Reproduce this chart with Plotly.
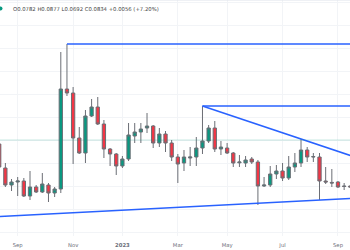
import plotly.graph_objects as go
import pandas as pd

# Weekly bars (week start dates)
dates = pd.date_range("2022-08-15", periods=58, freq="7D")

open_ = [0.0880, 0.0760, 0.0675, 0.0690, 0.0695, 0.0620, 0.0665, 0.0640, 0.0675, 0.0635,
         0.0655, 0.1155, 0.1135, 0.0910, 0.0835, 0.1020, 0.1065, 0.0980, 0.0855, 0.0830,
         0.0770, 0.0805, 0.0920, 0.0940, 0.0960, 0.0970, 0.0885, 0.0930, 0.0885, 0.0815,
         0.0785, 0.0810, 0.0815, 0.0860, 0.0895, 0.0960, 0.0855, 0.0860, 0.0835, 0.0786,
         0.0785, 0.0805, 0.0790, 0.0670, 0.0675, 0.0730, 0.0745, 0.0710, 0.0765, 0.0785,
         0.0850, 0.0815, 0.0815, 0.0695, 0.0688, 0.0690, 0.0670, 0.0670]
high = [0.0900, 0.0785, 0.0705, 0.0715, 0.0710, 0.0745, 0.0675, 0.0735, 0.0685, 0.0665,
        0.1340, 0.1380, 0.1165, 0.0965, 0.1050, 0.1105, 0.1115, 0.1000, 0.0860, 0.0835,
        0.0820, 0.0985, 0.0985, 0.0985, 0.1035, 0.0975, 0.0960, 0.0945, 0.0900, 0.0830,
        0.0850, 0.0865, 0.0915, 0.1070, 0.0975, 0.0995, 0.0895, 0.0885, 0.0840, 0.0825,
        0.0820, 0.0815, 0.0800, 0.0715, 0.0770, 0.0775, 0.0785, 0.0820, 0.0835, 0.0905,
        0.0865, 0.0835, 0.0835, 0.0765, 0.0755, 0.0695, 0.0685, 0.0675]
low = [0.0760, 0.0665, 0.0645, 0.0620, 0.0615, 0.0600, 0.0635, 0.0635, 0.0590, 0.0615,
       0.0635, 0.1120, 0.0780, 0.0830, 0.0785, 0.1015, 0.0975, 0.0810, 0.0770, 0.0725,
       0.0760, 0.0795, 0.0885, 0.0885, 0.0935, 0.0860, 0.0865, 0.0840, 0.0795, 0.0685,
       0.0745, 0.0770, 0.0770, 0.0830, 0.0885, 0.0840, 0.0825, 0.0830, 0.0765, 0.0765,
       0.0765, 0.0780, 0.0575, 0.0665, 0.0665, 0.0705, 0.0695, 0.0700, 0.0740, 0.0765,
       0.0790, 0.0790, 0.0600, 0.0680, 0.0665, 0.0660, 0.0650, 0.0660]
close = [0.0765, 0.0675, 0.0690, 0.0695, 0.0620, 0.0665, 0.0640, 0.0680, 0.0635, 0.0655,
         0.1155, 0.1135, 0.0910, 0.0835, 0.1020, 0.1065, 0.0980, 0.0855, 0.0830, 0.0770,
         0.0805, 0.0925, 0.0940, 0.0955, 0.0970, 0.0885, 0.0930, 0.0885, 0.0815, 0.0780,
         0.0815, 0.0815, 0.0860, 0.0895, 0.0960, 0.0855, 0.0865, 0.0835, 0.0785, 0.0790,
         0.0800, 0.0790, 0.0670, 0.0675, 0.0730, 0.0745, 0.0710, 0.0765, 0.0785, 0.0850,
         0.0815, 0.0817, 0.0695, 0.0690, 0.0685, 0.0665, 0.0668, 0.0665]

tick_dates = ["2022-09-05", "2022-11-07", "2023-01-02", "2023-03-06",
              "2023-05-01", "2023-07-03", "2023-09-04"]
tick_text = ["Sep", "Nov", "<b>2023</b>", "Mar", "May", "Jul", "Sep"]

header = "O0.0782 H0.0877 L0.0692 C0.0834 +0.0056 (+7.20%)"

# Drawing anchors (bar index, price)
support_anchor = (0, 0.05175)
level_line = 0.0900

GREEN = "#089981"
RED = "#F23645"
BLUE = "#2962FF"

base = dates[0]
def at(idx):
    return base + pd.Timedelta(days=7 * idx)

x_end = 60
fig = go.Figure()

fig.add_trace(go.Candlestick(
    x=dates, open=open_, high=high, low=low, close=close,
    increasing=dict(fillcolor=GREEN, line=dict(color="#6b6e75", width=1)),
    decreasing=dict(fillcolor=RED, line=dict(color="#6b6e75", width=1)),
    whiskerwidth=0, showlegend=False, hoverinfo="skip"))

line_style = dict(color=BLUE, width=1.5)
# horizontal resistance from bar 11 high
fig.add_trace(go.Scatter(x=[dates[11], at(x_end)], y=[high[11], high[11]], mode="lines",
                         line=line_style, showlegend=False, hoverinfo="skip"))
# horizontal resistance from bar 33 high
fig.add_trace(go.Scatter(x=[dates[33], at(x_end)], y=[high[33], high[33]], mode="lines",
                         line=line_style, showlegend=False, hoverinfo="skip"))
# descending line through bar 33 high and bar 49 high
slope_d = (high[49] - high[33]) / (49 - 33)
fig.add_trace(go.Scatter(x=[dates[33], at(x_end)],
                         y=[high[33], high[33] + slope_d * (x_end - 33)], mode="lines",
                         line=line_style, showlegend=False, hoverinfo="skip"))
# ascending support through anchor and bar 52 low
i0, p0 = support_anchor
slope_s = (low[52] - p0) / (52 - i0)
fig.add_trace(go.Scatter(x=[at(i0 - 2), at(x_end)],
                         y=[p0 - 2 * slope_s, p0 + slope_s * (x_end - i0)], mode="lines",
                         line=line_style, showlegend=False, hoverinfo="skip"))

fig.add_hline(y=level_line, line=dict(color="rgba(8,153,129,0.22)", width=1))

fig.add_shape(type="circle", xref="paper", yref="paper", xsizemode="pixel", ysizemode="pixel",
              xanchor=0, yanchor=1, x0=-1.5, x1=2.5, y0=-10.5, y1=-6.5,
              fillcolor=GREEN, line=dict(width=0))
fig.add_shape(type="line", xref="paper", yref="paper", x0=0, x1=1, y0=1, y1=1,
              line=dict(color="#e0e3eb", width=1))

fig.add_annotation(text=header, xref="paper", yref="paper", x=11 / 350, y=1 - 8.5 / 236,
                   xanchor="left", yanchor="middle", showarrow=False,
                   font=dict(family="DejaVu Sans", size=5.3, color="#444"))

fig.update_layout(
    width=350, height=250, margin=dict(l=0, r=0, t=0, b=14),
    paper_bgcolor="white", plot_bgcolor="white", boxgap=0.24,
    xaxis=dict(type="date", range=[at(0.13), at(56.95)], rangeslider=dict(visible=False),
               tickvals=tick_dates, ticktext=tick_text, showgrid=True, gridcolor="#f2f4f7",
               gridwidth=1, ticks="", zeroline=False, showline=False, ticklabelstandoff=5,
               tickfont=dict(family="DejaVu Sans", size=5.3, color="#6a6d78")),
    yaxis=dict(range=[0.042, 0.16], tick0=0.067, dtick=0.0115, showgrid=True,
               gridcolor="#f2f4f7", showticklabels=False, zeroline=False, showline=False),
)

fig.write_html("out.html")
